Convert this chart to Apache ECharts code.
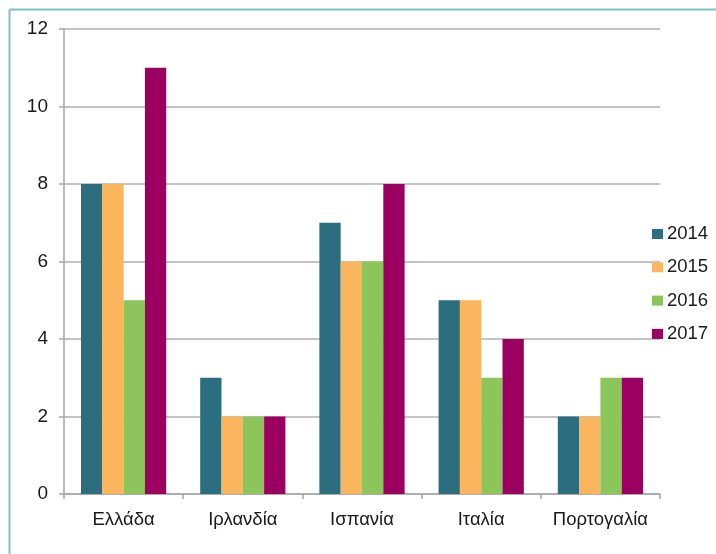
<!DOCTYPE html>
<html>
<head>
<meta charset="utf-8">
<script src="https://cdn.jsdelivr.net/npm/echarts@6/dist/echarts.min.js"></script>
<style>html,body{margin:0;padding:0;background:#fff;}#c{width:716px;height:554px;}</style>
</head>
<body>
<div id="c"></div>
<script>
var categories = ['Ελλάδα', 'Ιρλανδία', 'Ισπανία', 'Ιταλία', 'Πορτογαλία'];
var seriesNames = ['2014', '2015', '2016', '2017'];
var v2014 = [8, 3, 7, 5, 2];
var v2015 = [8, 2, 6, 5, 2];
var v2016 = [5, 2, 6, 3, 3];
var v2017 = [11, 2, 8, 4, 3];
var yTicks = [0, 2, 4, 6, 8, 10, 12];

var colors = ['#2c6e80', '#fbb55c', '#8cc55a', '#9b0060'];
var values = [v2014, v2015, v2016, v2017];

var chart = echarts.init(document.getElementById('c'));
chart.setOption({
  animation: false,
  color: colors,
  textStyle: { fontFamily: 'Liberation Sans, Arial, sans-serif' },
  graphic: [
    { type: 'line', shape: { x1: 9.5, y1: 9.5, x2: 716, y2: 9.5 }, style: { stroke: '#86bccb', lineWidth: 2 } },
    { type: 'line', shape: { x1: 9.5, y1: 9.5, x2: 9.5, y2: 554 }, style: { stroke: '#86bccb', lineWidth: 2 } }
  ],
  grid: { left: 64, top: 29, width: 596, height: 465, containLabel: false },
  legend: {
    orient: 'vertical',
    left: 647,
    top: 219,
    icon: 'rect',
    itemWidth: 11,
    itemHeight: 10,
    itemGap: 13.3,
    textStyle: { fontSize: 18.5, color: '#1a1a1a', padding: [0, 0, 0, -1], lineHeight: 20 },
    data: seriesNames
  },
  xAxis: {
    type: 'category',
    data: categories,
    axisLine: { lineStyle: { color: '#a6a6a6', width: 1.5 } },
    axisTick: { show: true, length: 5, lineStyle: { color: '#a6a6a6', width: 1.5 } },
    axisLabel: { fontSize: 18.5, color: '#1a1a1a', margin: 16, interval: 0, hideOverlap: false }
  },
  yAxis: {
    type: 'value',
    min: yTicks[0],
    max: yTicks[yTicks.length - 1],
    interval: 2,
    axisLine: { show: true, lineStyle: { color: '#a6a6a6', width: 1.5 } },
    axisTick: { show: true, length: 5, lineStyle: { color: '#a6a6a6', width: 1.5 } },
    axisLabel: { fontSize: 19, color: '#1a1a1a', margin: 16 },
    splitLine: { lineStyle: { color: '#b0b0b0', width: 1.5 } }
  },
  series: seriesNames.map(function (n, i) {
    return {
      name: n,
      type: 'bar',
      data: values[i],
      barGap: '0%',
      barCategoryGap: '28.5%',
      itemStyle: { color: colors[i] }
    };
  })
});
</script>
</body>
</html>
